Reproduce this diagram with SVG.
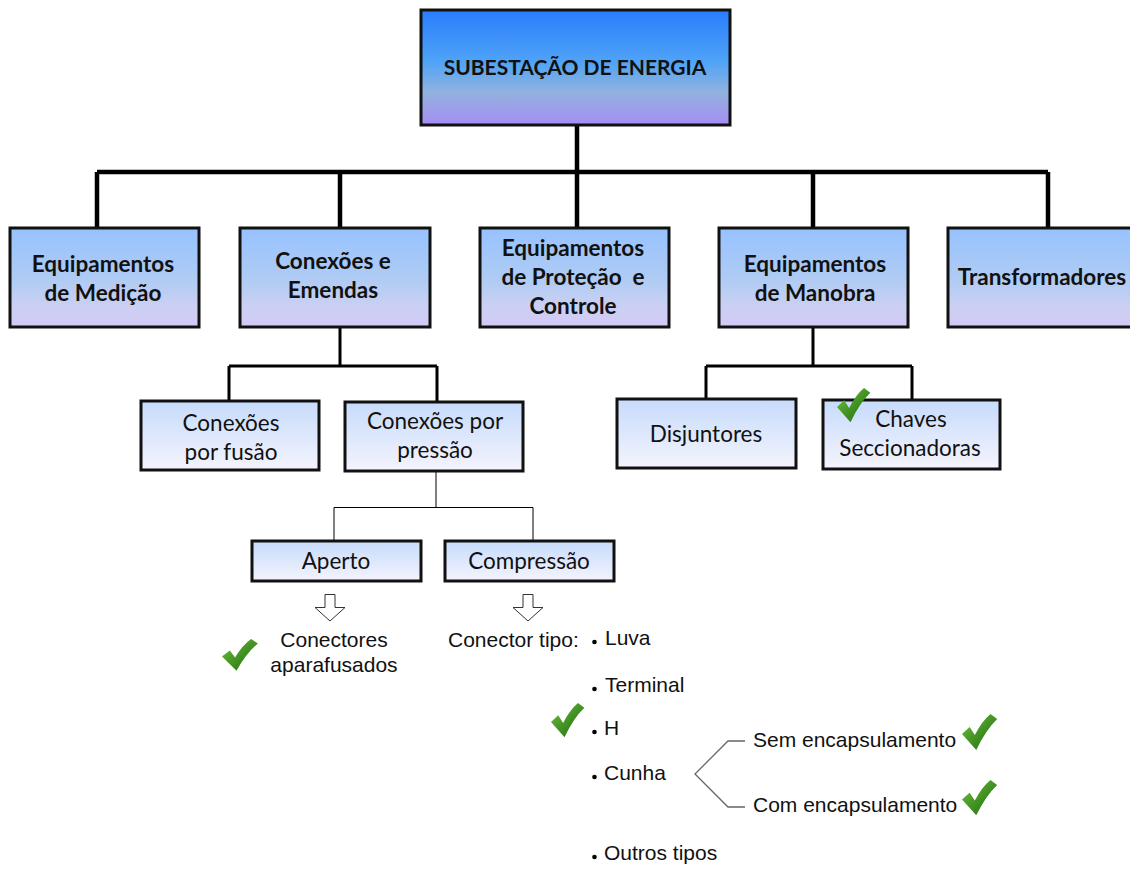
<svg xmlns="http://www.w3.org/2000/svg" xmlns:xlink="http://www.w3.org/1999/xlink" width="1130" height="879" viewBox="0 0 1130 879">
  <defs>
    <linearGradient id="gTop" x1="0" y1="0" x2="0" y2="1">
      <stop offset="0" stop-color="#2a7dfc"/>
      <stop offset="0.45" stop-color="#4fa3f7"/>
      <stop offset="0.72" stop-color="#92b2de"/>
      <stop offset="1" stop-color="#a68cf5"/>
    </linearGradient>
    <linearGradient id="gMid" x1="0" y1="0" x2="0" y2="1">
      <stop offset="0" stop-color="#97c2ff"/>
      <stop offset="0.5" stop-color="#aecbf4"/>
      <stop offset="0.8" stop-color="#cbd0f2"/>
      <stop offset="1" stop-color="#d4c8f8"/>
    </linearGradient>
    <linearGradient id="gLow" x1="0" y1="0" x2="0" y2="1">
      <stop offset="0" stop-color="#c6dbfb"/>
      <stop offset="1" stop-color="#f4f4fd"/>
    </linearGradient>
    <linearGradient id="gChk" x1="0" y1="0" x2="1" y2="1">
      <stop offset="0" stop-color="#74c443"/>
      <stop offset="0.55" stop-color="#3f8f22"/>
      <stop offset="1" stop-color="#276c10"/>
    </linearGradient>
    <!-- green tick used next to several items -->
    <path id="chk" d="M0,20 L8,13 L13.5,21 Q21,7 30,0 L37,5 Q25,16 15,36 Z" fill="url(#gChk)"/>
    <style>
      .box { stroke: #111; stroke-width: 3; }
      .top { fill: url(#gTop); }
      .mid { fill: url(#gMid); }
      .low { fill: url(#gLow); }
      .h1 { font-family: Lato, "Liberation Sans", sans-serif; font-weight: bold; font-size: 21px; fill: #111; text-anchor: middle; }
      .h2 { font-family: Lato, "Liberation Sans", sans-serif; font-weight: bold; font-size: 22.5px; fill: #111; text-anchor: middle; }
      .h3 { font-family: Lato, "Liberation Sans", sans-serif; font-size: 22.5px; fill: #111; text-anchor: middle; }
      .t { font-family: "Liberation Sans", Arial, sans-serif; font-size: 21px; fill: #111; }
      .thick { stroke: #000; stroke-width: 4.5; fill: none; }
      .med { stroke: #000; stroke-width: 3; fill: none; }
      .thin { stroke: #000; stroke-width: 1; fill: none; }
      .brk { stroke: #666; stroke-width: 1.3; fill: none; }
      .arr { fill: #fff; stroke: #333; stroke-width: 1; }
    </style>
  </defs>

  <rect width="1130" height="879" fill="#fff"/>

  <!-- connectors -->
  <g id="connectors">
    <path class="thick" d="M577,125 V172 M97,172 H1048 M97,172 V228 M340,172 V228 M577,172 V228 M813,172 V228 M1048,172 V228"/>
    <path class="med" d="M340,327 V366 M229,366 H437 M229,366 V401 M437,366 V402"/>
    <path class="med" d="M813,327 V366 M706,366 H912 M706,366 V399 M912,366 V400"/>
    <path class="thin" d="M436,471 V507.5 M334,507.5 H533 M334,507.5 V541 M533,507.5 V541"/>
    <path class="arr" d="M325,594.5 H335 V607.5 H345 L330,621 L315,607.5 H325 Z"/>
    <path class="arr" d="M523,594.5 H533 V607.5 H543 L528,621 L513,607.5 H523 Z"/>
    <path class="brk" d="M745,741 H728 L695,774 L728,807 H745"/>
  </g>

  <!-- root -->
  <g id="subestacao">
    <rect class="box top" x="421" y="10" width="309" height="115"/>
    <text class="h1" x="575" y="75">SUBESTAÇÃO DE ENERGIA</text>
  </g>

  <!-- second level -->
  <g id="medicao">
    <rect class="box mid" x="10" y="228" width="189" height="99"/>
    <text class="h2" x="103" y="272">Equipamentos</text>
    <text class="h2" x="103" y="301">de Medição</text>
  </g>
  <g id="conexoes">
    <rect class="box mid" x="240" y="228" width="190" height="99"/>
    <text class="h2" x="333" y="269">Conexões e</text>
    <text class="h2" x="333" y="298">Emendas</text>
  </g>
  <g id="protecao">
    <rect class="box mid" x="480" y="228" width="189" height="99"/>
    <text class="h2" x="573" y="256">Equipamentos</text>
    <text class="h2" x="573" y="285" xml:space="preserve">de Proteção  e</text>
    <text class="h2" x="573" y="314">Controle</text>
  </g>
  <g id="manobra">
    <rect class="box mid" x="719" y="228" width="189" height="99"/>
    <text class="h2" x="815" y="272">Equipamentos</text>
    <text class="h2" x="815" y="301">de Manobra</text>
  </g>
  <g id="transformadores">
    <rect class="box mid" x="948" y="228" width="190" height="99"/>
    <text class="h2" x="1042" y="285">Transformadores</text>
  </g>

  <!-- third level -->
  <g id="fusao">
    <rect class="box low" x="141" y="401" width="178" height="69"/>
    <text class="h3" x="231" y="431">Conexões</text>
    <text class="h3" x="231" y="460">por fusão</text>
  </g>
  <g id="pressao">
    <rect class="box low" x="345" y="402" width="178" height="69"/>
    <text class="h3" x="435" y="429">Conexões por</text>
    <text class="h3" x="435" y="458">pressão</text>
  </g>
  <g id="disjuntores">
    <rect class="box low" x="617" y="399" width="179" height="69"/>
    <text class="h3" x="706" y="442">Disjuntores</text>
  </g>
  <g id="chaves">
    <rect class="box low" x="823" y="400" width="177" height="69"/>
    <text class="h3" x="911" y="427">Chaves</text>
    <text class="h3" x="910" y="456">Seccionadoras</text>
    <use href="#chk" xlink:href="#chk" transform="translate(837,388) scale(0.9,0.95)"/>
  </g>

  <!-- fourth level -->
  <g id="aperto">
    <rect class="box low" x="252" y="541" width="169" height="40"/>
    <text class="h3" x="336" y="569">Aperto</text>
  </g>
  <g id="compressao">
    <rect class="box low" x="445" y="541" width="169" height="40"/>
    <text class="h3" x="529" y="569">Compressão</text>
  </g>

  <!-- connector types -->
  <g id="aparafusados">
    <text class="t" x="334" y="647" text-anchor="middle">Conectores</text>
    <text class="t" x="334" y="672" text-anchor="middle">aparafusados</text>
    <use href="#chk" xlink:href="#chk" transform="translate(222,639) scale(0.97,0.88)"/>
  </g>
  <g id="tipos">
    <text class="t" x="448" y="647">Conector tipo:</text>
    <circle cx="594.5" cy="642" r="2.3"/>
    <text class="t" x="605" y="645">Luva</text>
    <circle cx="594.5" cy="689" r="2.3"/>
    <text class="t" x="605" y="692">Terminal</text>
    <circle cx="594.5" cy="732" r="2.3"/>
    <text class="t" x="604" y="735">H</text>
    <use href="#chk" xlink:href="#chk" transform="translate(551,703) scale(0.9,0.95)"/>
    <circle cx="594.5" cy="777" r="2.3"/>
    <text class="t" x="604" y="780">Cunha</text>
    <circle cx="594.5" cy="857" r="2.3"/>
    <text class="t" x="604" y="860">Outros tipos</text>
  </g>
  <g id="cunha-opcoes">
    <text class="t" x="753" y="747">Sem encapsulamento</text>
    <use href="#chk" xlink:href="#chk" transform="translate(962,714) scale(0.95,1)"/>
    <text class="t" x="753" y="812">Com encapsulamento</text>
    <use href="#chk" xlink:href="#chk" transform="translate(962,780) scale(0.95,0.98)"/>
  </g>
</svg>
